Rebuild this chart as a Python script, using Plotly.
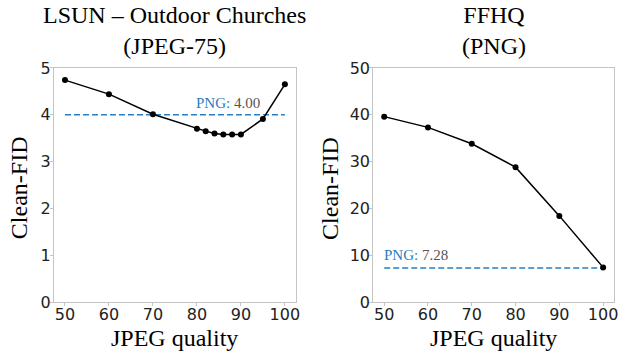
import plotly.graph_objects as go

# Left panel: LSUN – Outdoor Churches (JPEG-75)
lsun_quality = [50, 60, 70, 80, 82, 84, 86, 88, 90, 95, 100]
lsun_fid = [4.74, 4.44, 4.01, 3.70, 3.65, 3.60, 3.58, 3.58, 3.58, 3.91, 4.65]
lsun_png = 4.00

# Right panel: FFHQ (PNG)
ffhq_quality = [50, 60, 70, 80, 90, 100]
ffhq_fid = [39.6, 37.3, 33.8, 28.8, 18.4, 7.4]
ffhq_png = 7.28

x_ticks = [50, 60, 70, 80, 90, 100]
lsun_yticks = [0, 1, 2, 3, 4, 5]
ffhq_yticks = [0, 10, 20, 30, 40, 50]

BLUE = "#2a7dc0"
SERIF = "Liberation Serif"
SANS = "DejaVu Sans"
W, H = 619, 352

XD1 = [0.0872, 0.478]
XD2 = [0.603, 0.992]
YD = [0.142, 0.807]
XR = [47.5, 102.5]

fig = go.Figure()

line_kw = dict(mode="lines+markers", line=dict(color="black", width=1.5),
               marker=dict(color="black", size=6), showlegend=False, hoverinfo="skip")
dash_kw = dict(mode="lines", line=dict(color=BLUE, width=1.6, dash="6px,3px"),
               showlegend=False, hoverinfo="skip")

fig.add_trace(go.Scatter(x=[lsun_quality[0], lsun_quality[-1]], y=[lsun_png, lsun_png],
                         xaxis="x", yaxis="y", **dash_kw))
fig.add_trace(go.Scatter(x=lsun_quality, y=lsun_fid, xaxis="x", yaxis="y", **line_kw))
fig.add_trace(go.Scatter(x=[ffhq_quality[0], ffhq_quality[-1]], y=[ffhq_png, ffhq_png],
                         xaxis="x2", yaxis="y2", **dash_kw))
fig.add_trace(go.Scatter(x=ffhq_quality, y=ffhq_fid, xaxis="x2", yaxis="y2", **line_kw))

common = dict(showgrid=False, zeroline=False, showline=True, mirror=True,
              linecolor="#c4c4c4", linewidth=1, ticks="outside", ticklen=3,
              tickcolor="#c4c4c4", automargin=False, ticklabeloverflow="allow",
              tickfont=dict(family=SANS, size=16, color="#222"))
xax = dict(common, range=XR, tickvals=x_ticks, ticklabelstandoff=-5)
yax = dict(common, ticklabelstandoff=-4)

fig.update_layout(
    width=W, height=H,
    template="none",
    margin=dict(l=0, r=0, t=0, b=0),
    paper_bgcolor="white", plot_bgcolor="white",
    xaxis=dict(xax, domain=XD1, anchor="y"),
    yaxis=dict(yax, domain=YD, range=[0, 5], tickvals=lsun_yticks, anchor="x"),
    xaxis2=dict(xax, domain=XD2, anchor="y2"),
    yaxis2=dict(yax, domain=YD, range=[0, 50], tickvals=ffhq_yticks, anchor="x2"),
)

ann = []
title_font = dict(family=SERIF, size=24, color="black")
label_font = dict(family=SERIF, size=24, color="black")
c1 = (XD1[0] + XD1[1]) / 2
c2 = (XD2[0] + XD2[1]) / 2
ann.append(dict(text="LSUN – Outdoor Churches<br>(JPEG-75)", x=c1, y=1.0, xref="paper", yref="paper",
                xanchor="center", yanchor="top", showarrow=False, font=title_font, yshift=0))
ann.append(dict(text="FFHQ<br>(PNG)", x=c2, y=1.0, xref="paper", yref="paper",
                xanchor="center", yanchor="top", showarrow=False, font=title_font, yshift=0))
for xc in (c1, c2):
    ann.append(dict(text="JPEG quality", x=xc, y=0.0, xref="paper", yref="paper",
                    xanchor="center", yanchor="bottom", showarrow=False, font=label_font, yshift=-1))
ann.append(dict(text="Clean-FID", x=0.031, y=0.466, xref="paper", yref="paper",
                xanchor="center", yanchor="middle", textangle=-90, showarrow=False, font=label_font))
ann.append(dict(text="Clean-FID", x=0.533, y=0.466, xref="paper", yref="paper",
                xanchor="center", yanchor="middle", textangle=-90, showarrow=False, font=label_font))
ann.append(dict(text=f"<span style='color:{BLUE}'>PNG:</span> <span style='color:#555'>{lsun_png:.2f}</span>",
                x=80, y=lsun_png, xref="x", yref="y", xanchor="left", yanchor="bottom",
                showarrow=False, font=dict(family=SERIF, size=15), xshift=-3, yshift=2))
ann.append(dict(text=f"<span style='color:{BLUE}'>PNG:</span> <span style='color:#555'>{ffhq_png:.2f}</span>",
                x=50, y=ffhq_png, xref="x2", yref="y2", xanchor="left", yanchor="bottom",
                showarrow=False, font=dict(family=SERIF, size=15), xshift=-2, yshift=3))
fig.update_layout(annotations=ann)

fig.write_html("out.html", config={"displayModeBar": False},
               post_script="document.body.style.margin='0';")
